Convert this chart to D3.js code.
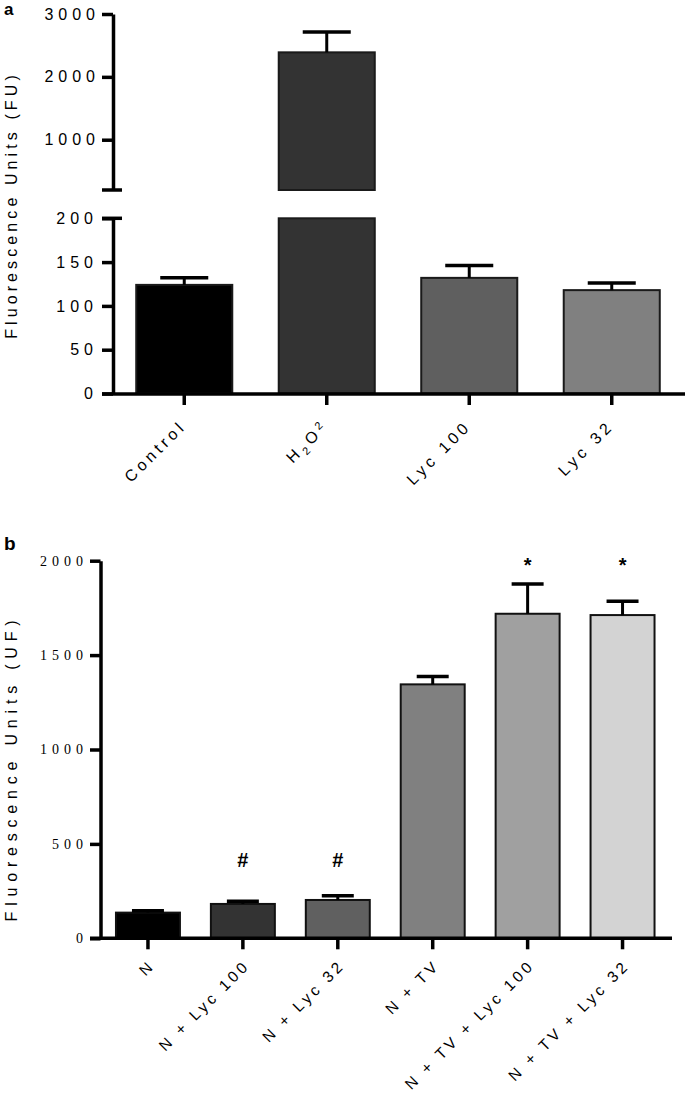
<!DOCTYPE html>
<html><head><meta charset="utf-8">
<script src="https://cdn.jsdelivr.net/npm/d3@7"></script>
<style>body{margin:0;background:#fff}svg{display:block}</style>
</head><body>
<svg id="c" width="685" height="1093"></svg>
<script>
// ---- Panel a data ----
const catsA = ["Control", "H2O2", "Lyc 100", "Lyc 32"];
const meansA = [124, 2390, 132, 118];
const errsA = [8, 324, 14, 8];
const fillsA = ["#000000", "#333333", "#5f5f5f", "#808080"];
const ticksAUpper = [1000, 2000, 3000];
const ticksALower = [0, 50, 100, 150, 200];
const titleA = "Fluorescence Units (FU)";

// ---- Panel b data ----
const catsB = ["N", "N + Lyc 100", "N + Lyc 32", "N + TV", "N + TV + Lyc 100", "N + TV + Lyc 32"];
const meansB = [136, 182, 203, 1345, 1719, 1712];
const errsB = [10, 14, 22, 41, 158, 73];
const fillsB = ["#000000", "#333333", "#606060", "#808080", "#a0a0a0", "#d3d3d3"];
const marksB = ["", "#", "#", "", "*", "*"];
const ticksB = [0, 500, 1000, 1500, 2000];
const titleB = "Fluorescence Units (UF)";

const svg = d3.select("#c");
const sans = "'Liberation Sans', Arial, Helvetica, sans-serif";
const serif = "'Liberation Serif', 'Times New Roman', serif";
const ink = "#000";
const AX = 3.5;
const fmt = d3.format("d");

function styleAxis(g, font, size, ls) {
  g.select(".domain").attr("stroke", ink).attr("stroke-width", AX);
  g.selectAll(".tick line").attr("stroke", ink).attr("stroke-width", AX);
  g.selectAll(".tick text").attr("fill", ink).style("font-family", font)
    .style("font-size", size + "px").style("letter-spacing", ls + "px");
}

// ================= Panel a =================
const xA = d3.scaleBand().domain(catsA).range([113, 683]).paddingInner(0.326).paddingOuter(0.163);
const breakV = 200;
const yHi = d3.scaleLinear().domain([breakV, 3000]).range([190, 14]);
const yLo = d3.scaleLinear().domain([0, breakV]).range([393.5, 218.3]);
const yA = v => v > breakV ? yHi(v) : yLo(v);

const gA = svg.append("g");
catsA.forEach((c, i) => {
  const x = xA(c), w = xA.bandwidth(), m = meansA[i];
  if (m > breakV) {
    gA.append("rect").attr("x", x).attr("y", yHi(m)).attr("width", w).attr("height", yHi(breakV) - yHi(m))
      .attr("fill", fillsA[i]).attr("stroke", "#1a1a1a").attr("stroke-width", 2);
    gA.append("rect").attr("x", x).attr("y", yLo(breakV)).attr("width", w).attr("height", yLo(0) - yLo(breakV))
      .attr("fill", fillsA[i]).attr("stroke", "#1a1a1a").attr("stroke-width", 2);
  } else {
    gA.append("rect").attr("x", x).attr("y", yLo(m)).attr("width", w).attr("height", yLo(0) - yLo(m))
      .attr("fill", fillsA[i]).attr("stroke", "#1a1a1a").attr("stroke-width", 2);
  }
  const cx = x + w / 2, top = yA(m), cap = yA(m + errsA[i]);
  gA.append("line").attr("x1", cx).attr("x2", cx).attr("y1", top).attr("y2", cap).attr("stroke", ink).attr("stroke-width", 3);
  gA.append("line").attr("x1", cx - w / 4).attr("x2", cx + w / 4).attr("y1", cap).attr("y2", cap).attr("stroke", ink).attr("stroke-width", 3.5);
});

const axHi = gA.append("g").attr("transform", "translate(113,0)")
  .call(d3.axisLeft(yHi).tickValues(ticksAUpper).tickFormat(fmt).tickSize(11).tickSizeOuter(0).tickPadding(2));
styleAxis(axHi, sans, 16, 5);
const axLo = gA.append("g").attr("transform", "translate(113,0)")
  .call(d3.axisLeft(yLo).tickValues(ticksALower).tickFormat(fmt).tickSize(11).tickSizeOuter(0).tickPadding(4));
styleAxis(axLo, sans, 16, 5);
// break caps
[yHi(breakV), yLo(breakV)].forEach(y => {
  gA.append("line").attr("x1", 102).attr("x2", 122).attr("y1", y).attr("y2", y).attr("stroke", ink).attr("stroke-width", AX);
});

const axXA = gA.append("g").attr("transform", "translate(0,394)")
  .call(d3.axisBottom(xA).tickSize(11).tickSizeOuter(0));
axXA.select(".domain").remove();
gA.append("line").attr("x1", 102).attr("x2", 685).attr("y1", 394).attr("y2", 394).attr("stroke", ink).attr("stroke-width", AX);
styleAxis(axXA, sans, 16, 4);
axXA.selectAll(".tick text").attr("x", 0).attr("y", 0).attr("dy", 0).attr("text-anchor", "end")
  .attr("transform", "translate(3,33) rotate(-45)")
  .each(function(d) {
    if (d === "H2O2") {
      const t = d3.select(this).text("");
      t.append("tspan").text("H");
      t.append("tspan").attr("dy", 4).style("font-size", "11px").text("2");
      t.append("tspan").attr("dy", -4).text("O");
      t.append("tspan").attr("dy", -5).style("font-size", "11px").text("2");
    }
  });

gA.append("text").attr("transform", "translate(17,205) rotate(-90)").attr("text-anchor", "middle")
  .style("font-family", sans).style("font-size", "16px").style("letter-spacing", "4.1px").text(titleA);
svg.append("text").attr("x", 4).attr("y", 15).style("font-family", sans).style("font-size", "17px")
  .style("font-weight", "bold").text("a");

// ================= Panel b =================
const xB = d3.scaleBand().domain(catsB).range([100.5, 670]).paddingInner(0.326).paddingOuter(0.163);
const yB = d3.scaleLinear().domain([0, 2000]).range([938.3, 560.7]);
const gB = svg.append("g");
catsB.forEach((c, i) => {
  const x = xB(c), w = xB.bandwidth(), m = meansB[i];
  gB.append("rect").attr("x", x).attr("y", yB(m)).attr("width", w).attr("height", yB(0) - yB(m))
    .attr("fill", fillsB[i]).attr("stroke", "#111").attr("stroke-width", 2);
  const cx = x + w / 2, top = yB(m), cap = yB(m + errsB[i]);
  gB.append("line").attr("x1", cx).attr("x2", cx).attr("y1", top).attr("y2", cap).attr("stroke", ink).attr("stroke-width", 3);
  gB.append("line").attr("x1", cx - w / 4).attr("x2", cx + w / 4).attr("y1", cap).attr("y2", cap).attr("stroke", ink).attr("stroke-width", 3.5);
});
// significance marks
const markLevel = { "#": 415, "*": 2000 };
catsB.forEach((c, i) => {
  if (!marksB[i]) return;
  gB.append("text").attr("x", xB(c) + xB.bandwidth() / 2).attr("y", yB(markLevel[marksB[i]]))
    .attr("text-anchor", "middle").attr("dy", marksB[i] === "*" ? "0.55em" : "0.35em")
    .style("font-family", sans).style("font-weight", "bold").style("font-size", "20px").text(marksB[i]);
});

const axYB = gB.append("g").attr("transform", "translate(100.5,0)")
  .call(d3.axisLeft(yB).tickValues(ticksB).tickFormat(fmt).tickSize(10.5).tickSizeOuter(0).tickPadding(2));
styleAxis(axYB, serif, 14, 5);
const axXB = gB.append("g").attr("transform", "translate(0,938.3)")
  .call(d3.axisBottom(xB).tickSize(11).tickSizeOuter(0));
axXB.select(".domain").remove();
gB.append("line").attr("x1", 90).attr("x2", 672).attr("y1", 938.3).attr("y2", 938.3).attr("stroke", ink).attr("stroke-width", AX);
styleAxis(axXB, sans, 15.5, 3.5);
axXB.selectAll(".tick text").attr("x", 0).attr("y", 0).attr("dy", 0).attr("text-anchor", "end")
  .attr("transform", "translate(8,28) rotate(-45)");

gB.append("text").attr("transform", "translate(17,768) rotate(-90)").attr("text-anchor", "middle")
  .style("font-family", sans).style("font-size", "16px").style("letter-spacing", "5.8px").text(titleB);
svg.append("text").attr("x", 4).attr("y", 550).style("font-family", sans).style("font-size", "19px")
  .style("font-weight", "bold").text("b");
</script>
</body></html>
